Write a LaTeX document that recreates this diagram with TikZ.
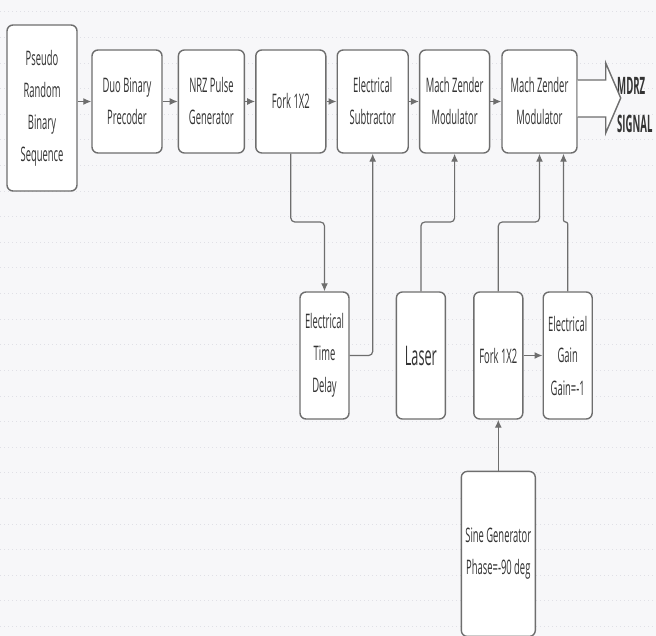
\documentclass[tikz,border=0pt]{standalone}
\usepackage{fontspec}
\usepackage{xcolor}
\usepackage{tikz}
\usetikzlibrary{arrows.meta,positioning,calc}

\newfontfamily\blockfont[FakeStretch=0.47]{Open Sans}
\newfontfamily\signalfont[FakeStretch=0.4]{Open Sans}

\definecolor{linegray}{HTML}{6E6E6E}
\definecolor{textgray}{HTML}{333333}
\definecolor{paper}{HTML}{F7F7F9}
\definecolor{gridgray}{HTML}{E0E0E6}

\begin{document}
\begin{tikzpicture}[
                x=1pt, y=-1pt,
                block/.style={draw=linegray, fill=white, line width=1.4pt, rounded corners=6pt, align=center, inner sep=0pt, text=textgray, font={\blockfont\fontsize{20}{32}\selectfont}, minimum width=70pt, minimum height=103pt},
                slim/.style={block, minimum width=49pt, minimum height=127pt},
                bus/.style={-{Latex[length=8pt,width=7pt]}, draw=linegray, line width=1.2pt, rounded corners=4pt}
            ]
            \useasboundingbox (0,0) rectangle (656,636);
            \fill[paper] (0,0) rectangle (656,636);
            \foreach \r in {0,...,24}
                \draw[gridgray, line width=1pt, dash pattern=on 1pt off 3pt] (0,{12+25.6*\r}) -- (656,{12+25.6*\r});
            % main chain
            \node[block, minimum height=166pt] (prbs) at (42,108) {Pseudo\\Random\\Binary\\Sequence};
            \node[block] (duo) at (127,101.5) {Duo Binary\\Precoder};
            \node[block, minimum width=66pt, right=15pt of duo] (nrz) {NRZ Pulse\\Generator};
            \node[block, right=10pt of nrz] (fork) {Fork 1X2};
            \node[block, minimum width=71pt, right=10pt of fork] (sub) {Electrical\\Subtractor};
            \node[block, right=10pt of sub] (mzmA) {Mach Zender\\Modulator};
            \node[block, minimum width=75pt, right=11pt of mzmA] (mzmB) {Mach Zender\\Modulator};
            \node[anchor=west, align=left, text=textgray, inner sep=0pt, font={\signalfont\bfseries\fontsize{24}{38}\selectfont}] (out) at (617,105) {MDRZ\\SIGNAL};
            % lower row
            \node[slim] (delay) at (324.5,355.5) {Electrical\\Time\\Delay};
            \node[slim, right=46pt of delay, font={\blockfont\fontsize{27}{32}\selectfont}] (laser) {Laser};
            \node[slim, right=27pt of laser] (forkB) {Fork 1X2};
            \node[slim, right=19pt of forkB] (gain) {Electrical\\Gain\\Gain=-1};
            \node[block, minimum width=74pt, minimum height=165pt, below=51pt of forkB] (sine) {Sine Generator\\Phase=-90 deg};
            \coordinate (tap) at (0,222);
            \draw[bus] (prbs.east |- duo) -- (duo);
            \draw[bus] (duo) -- (nrz);
            \draw[bus] (nrz) -- (fork);
            \draw[bus] (fork) -- (sub);
            \draw[bus] (sub) -- (mzmA);
            \draw[bus] (mzmA) -- (mzmB);
            \draw[bus] (fork.south) -- (fork.south |- tap) -| (delay.north);
            \draw[bus] (delay.east) -| (sub.south);
            \draw[bus] (laser.north) -- (laser.north |- tap) -| (mzmA.south);
            \draw[bus] (forkB.north) -- (forkB.north |- tap) -| (mzmB.south);
            \draw[bus, rounded corners=2pt] (gain.north) -- (gain.north |- tap) -| ([xshift=24pt]mzmB.south);
            \draw[bus] (forkB) -- (gain);
            \draw[bus] (sine) -- (forkB);
            % output arrow
            \draw[linegray, fill=white, line width=1.4pt, line join=miter] ($(mzmB.east)+(0,-21.5)$) -- ++(28,0) -- ++(0,-17) -- ++(15,35) -- ++(-15,35) -- ++(0,-16) -- ++(-28,0);
        \end{tikzpicture}
\end{document}
